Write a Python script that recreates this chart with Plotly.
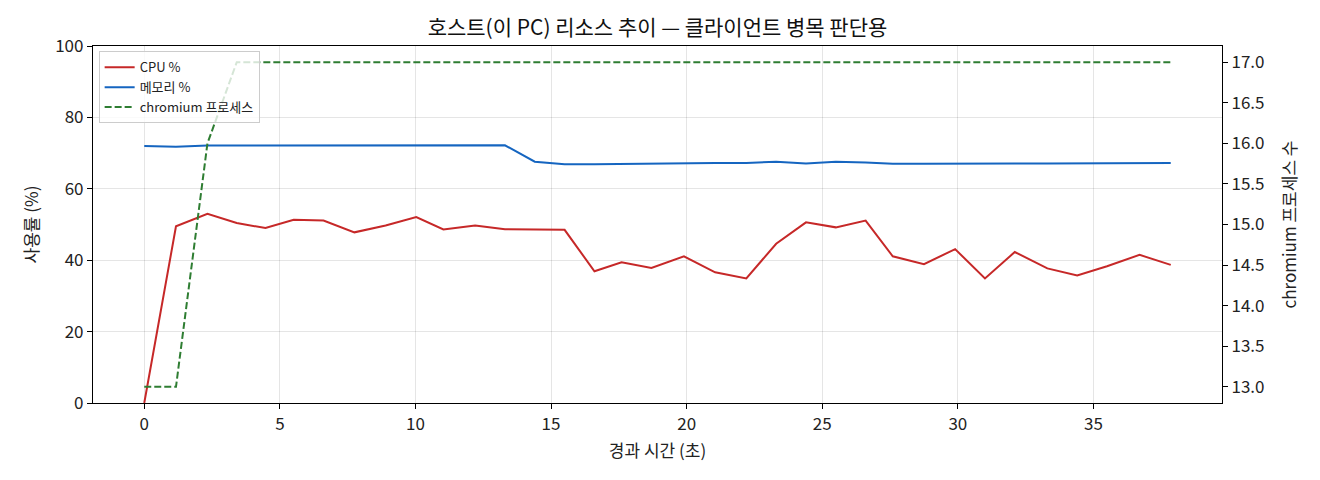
import plotly.graph_objects as go

# elapsed time (s)
elapsed = [0, 1.17, 2.33, 3.41, 4.47, 5.51, 6.61, 7.75, 8.9, 10.03,
           11.03, 12.2, 13.3, 14.4, 15.5, 16.6, 17.6, 18.7, 19.9, 21.05,
           22.2, 23.3, 24.4, 25.5, 26.6, 27.6, 28.75, 29.9, 31.0, 32.1,
           33.3, 34.4, 35.5, 36.7, 37.85]

cpu_pct = [0, 49.5, 53.0, 50.4, 49.0, 51.3, 51.1, 47.8, 49.7, 52.1,
           48.6, 49.7, 48.7, 48.7, 48.5, 36.9, 39.4, 37.8, 41.1, 36.6,
           34.9, 44.6, 50.6, 49.2, 51.1, 41.1, 38.9, 43.1, 34.9, 42.3,
           37.7, 35.7, 38.3, 41.5, 38.7]

mem_pct = [72.0, 71.8, 72.1, 72.1, 72.1, 72.0, 72.1, 72.0, 72.0, 72.1,
           72.0, 72.0, 72.2, 67.6, 66.9, 66.9, 67.0, 67.0, 67.2, 67.2,
           67.2, 67.6, 67.1, 67.6, 67.4, 67.0, 67.0, 67.1, 67.0, 67.1,
           67.1, 67.1, 67.1, 67.2, 67.2]

chromium_procs = [13, 13, 16, 17, 17, 17, 17, 17, 17, 17,
                  17, 17, 17, 17, 17, 17, 17, 17, 17, 17,
                  17, 17, 17, 17, 17, 17, 17, 17, 17, 17,
                  17, 17, 17, 17, 17]

FONT = "Noto Sans CJK KR"

fig = go.Figure()
fig.add_trace(go.Scatter(
    x=elapsed, y=cpu_pct, mode="lines", name="CPU %",
    line=dict(color="#c62828", width=2),
))
fig.add_trace(go.Scatter(
    x=elapsed, y=mem_pct, mode="lines", name="메모리 %",
    line=dict(color="#1565c0", width=2),
))
fig.add_trace(go.Scatter(
    x=elapsed, y=chromium_procs, mode="lines", name="chromium 프로세스",
    line=dict(color="#2e7d32", width=2, dash="7px,3px"),
    yaxis="y2",
))

# page body has an 8px margin, so the figure is a bit smaller than the window
fig.update_layout(
    width=1312, height=472,
    margin=dict(l=85, r=98, t=38, b=77),
    plot_bgcolor="white", paper_bgcolor="white",
    font=dict(family=FONT, size=17, color="#222"),
    title=dict(text="호스트(이 PC) 리소스 추이 — 클라이언트 병목 판단용",
               x=0.5, xref="paper", y=0.958, yref="container",
               xanchor="center", yanchor="middle",
               font=dict(size=21, color="#111")),
    showlegend=True,
    legend=dict(x=0.005, y=0.985, xanchor="left", yanchor="top",
                bgcolor="rgba(255,255,255,0.8)", bordercolor="#ccc",
                borderwidth=1, font=dict(size=13), itemwidth=30),
    xaxis=dict(
        range=[-1.89, 39.74], tickvals=[0, 5, 10, 15, 20, 25, 30, 35],
        showgrid=True, gridcolor="rgba(0,0,0,0.1)", zeroline=False,
        showline=True, linecolor="black", linewidth=1.2, mirror=True,
        ticks="outside", ticklen=5, tickcolor="black", automargin=False,
        title=dict(text="경과 시간 (초)", font=dict(size=17), standoff=11),
    ),
    yaxis=dict(
        range=[0, 100], tickvals=[0, 20, 40, 60, 80, 100],
        showgrid=True, gridcolor="rgba(0,0,0,0.1)", zeroline=False,
        showline=True, linecolor="black", linewidth=1.2, mirror=True,
        ticks="outside", ticklen=5, tickcolor="black", automargin=False,
        title=dict(text="사용률 (%)", font=dict(size=17), standoff=12),
    ),
    yaxis2=dict(
        overlaying="y", side="right",
        range=[12.8, 17.2],
        tickvals=[13.0, 13.5, 14.0, 14.5, 15.0, 15.5, 16.0, 16.5, 17.0],
        tickformat=".1f",
        showgrid=False, zeroline=False,
        showline=True, linecolor="black", linewidth=1.2,
        ticks="outside", ticklen=5, tickcolor="black", automargin=False,
        title=dict(text="chromium 프로세스 수", font=dict(size=17), standoff=20),
    ),
)

fig.write_html("out.html")
